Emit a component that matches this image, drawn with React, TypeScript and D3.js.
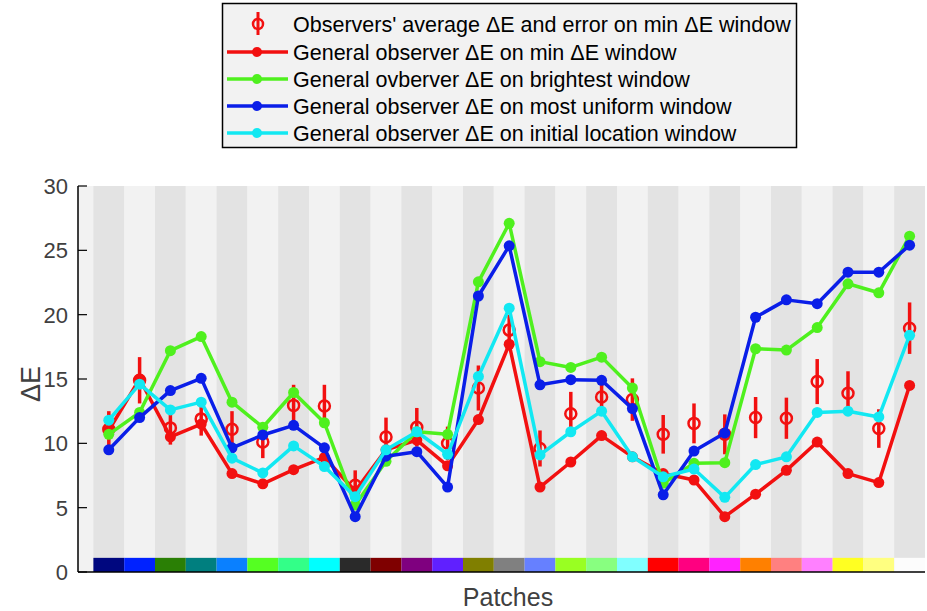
import * as d3 from "d3";

// patch swatch colours, left to right
const patchColors = [
  "#00077f", "#0022ff", "#2a7f05", "#007f7f", "#0a80ff", "#55ff22", "#33ff88", "#00ffff", "#2a2a2a",
  "#7f0000", "#7f007f", "#6020ff", "#807f00", "#808080", "#6680ff", "#99ff22", "#88ff80", "#80ffff",
  "#ff0000", "#ff0080", "#ff22ff", "#ff8000", "#ff8080", "#ff80ff", "#ffff22", "#ffff80", "#fcfcfc",
];

const observerAvg = [11.1, 14.9, 11.2, 11.9, 11.1, 10.1, 12.95, 12.9, 6.75, 10.5, 11.25, 10.0, 14.3, 18.8, 9.6, 12.3, 13.6, 13.4, 10.7, 11.55, 10.7, 12.0, 11.95, 14.8, 13.9, 11.15, 18.95];
const observerErr = [1.4, 1.8, 1.3, 1.3, 1.4, 1.25, 1.6, 1.65, 1.15, 1.5, 1.5, 1.3, 1.75, 1.2, 1.4, 1.7, 1.45, 1.65, 1.5, 1.55, 1.55, 1.6, 1.6, 1.75, 1.7, 1.5, 2.0];
const minWindow = [11.0, 15.0, 10.5, 11.5, 7.65, 6.85, 7.95, 8.9, 6.3, 9.5, 10.25, 8.25, 11.85, 17.7, 6.6, 8.55, 10.6, 8.95, 7.65, 7.15, 4.3, 6.05, 7.9, 10.1, 7.65, 6.95, 14.5];
const brightestWindow = [10.7, 12.4, 17.2, 18.3, 13.2, 11.25, 13.95, 11.6, 5.2, 8.6, 10.9, 10.7, 22.55, 27.1, 16.35, 15.9, 16.7, 14.3, 6.9, 8.45, 8.5, 17.35, 17.25, 19.0, 22.4, 21.7, 26.1];
const uniformWindow = [9.5, 12.0, 14.1, 15.05, 9.65, 10.65, 11.4, 9.65, 4.3, 9.0, 9.35, 6.6, 21.45, 25.35, 14.55, 14.95, 14.9, 12.7, 6.0, 9.4, 10.8, 19.8, 21.15, 20.85, 23.3, 23.3, 25.4];
const initialWindow = [11.8, 14.6, 12.6, 13.2, 8.85, 7.7, 9.8, 8.2, 5.85, 9.5, 10.9, 9.15, 15.2, 20.5, 9.1, 10.9, 12.5, 8.95, 7.4, 8.0, 5.8, 8.35, 8.95, 12.4, 12.5, 12.05, 18.4];

const yTicks = [0, 5, 10, 15, 20, 25, 30];

const series = [
  { name: "General observer \u0394E on min \u0394E window", color: "#f21010", values: minWindow },
  { name: "General ovberver \u0394E on brightest window", color: "#4ff01e", values: brightestWindow },
  { name: "General observer \u0394E on most uniform window", color: "#0a1ee8", values: uniformWindow },
  { name: "General observer \u0394E on initial location window", color: "#12e8f2", values: initialWindow },
];
const observerLabel = "Observers' average \u0394E and error on min \u0394E window";
const red = "#f21010";

const font = "'Liberation Sans', Arial, Helvetica, sans-serif";

export default function App() {
  const W = 927, H = 611;
  const x = d3.scaleLinear().domain([0, 27.5]).range([78, 925]);
  const y = d3.scaleLinear().domain([0, 30]).range([572, 186]);
  const patches = d3.range(1, patchColors.length + 1);
  const line = d3.line<number>().x((_, i) => x(i + 1)).y(d => y(d));

  const legendRows = [24, 52, 79, 106, 133];

  return (
    <div style={{ position: "absolute", left: 0, top: 0 }}>
      <svg width={W} height={H} style={{ display: "block", background: "#fff" }} fontFamily={font}>
        {/* axes background and patch bands */}
        <rect x={x(0)} y={y(30)} width={x(27.5) - x(0)} height={y(0) - y(30)} fill="#f2f2f2" />
        {patches.map(p => (
          <rect key={"b" + p} x={x(p - 0.5)} y={y(30)} width={x(p + 0.5) - x(p - 0.5)} height={y(0) - y(30)}
            fill={p % 2 === 1 ? "#e3e3e3" : "#f2f2f2"} />
        ))}
        {patches.map(p => (
          <rect key={"s" + p} x={x(p - 0.5)} y={y(1.1)} width={x(p + 0.5) - x(p - 0.5)} height={y(0) - y(1.1)}
            fill={patchColors[p - 1]} />
        ))}

        {/* observer error bars */}
        {observerAvg.map((v, i) => (
          <g key={"o" + i}>
            <line x1={x(i + 1)} x2={x(i + 1)} y1={y(v + observerErr[i])} y2={y(v - observerErr[i])}
              stroke={red} strokeWidth={3.5} />
            <circle cx={x(i + 1)} cy={y(v)} r={5.5} fill="none" stroke={red} strokeWidth={2.5} />
          </g>
        ))}

        {/* series lines */}
        {series.map(s => (
          <g key={s.name}>
            <path d={line(s.values) || ""} fill="none" stroke={s.color} strokeWidth={3.5} strokeLinejoin="round" />
            {s.values.map((v, i) => (
              <circle key={i} cx={x(i + 1)} cy={y(v)} r={5.5} fill={s.color} />
            ))}
          </g>
        ))}

        {/* axes */}
        <line x1={x(0)} x2={x(0)} y1={y(30)} y2={y(0)} stroke="#000" strokeWidth={1.5} />
        <line x1={x(0)} x2={x(27.5)} y1={y(0)} y2={y(0)} stroke="#000" strokeWidth={1.5} />
        {yTicks.map(t => (
          <g key={"t" + t}>
            <line x1={x(0)} x2={x(0) + 9} y1={y(t)} y2={y(t)} stroke="#000" strokeWidth={1.2} />
            <text x={x(0) - 10} y={y(t)} dy="0.36em" textAnchor="end" fontSize={22} fill="#404040">{t}</text>
          </g>
        ))}
        <text transform={`translate(40,${(y(0) + y(30)) / 2 + 5}) rotate(-90)`} textAnchor="middle"
          fontSize={27} fill="#404040">{"\u0394E"}</text>
        <text x={508} y={606} textAnchor="middle" fontSize={25} fill="#404040">Patches</text>

        {/* legend */}
        <rect x={222.5} y={3.5} width={574} height={144} fill="#f2f2f2" stroke="#000" strokeWidth={1.5} />
        <g>
          <line x1={258} x2={258} y1={12} y2={35} stroke={red} strokeWidth={3} />
          <circle cx={258} cy={legendRows[0]} r={5} fill="none" stroke={red} strokeWidth={2.5} />
          <text x={293} y={legendRows[0]} dy="0.36em" fontSize={21.5} fill="#000">{observerLabel}</text>
        </g>
        {series.map((s, i) => (
          <g key={"l" + i}>
            <line x1={227} x2={288} y1={legendRows[i + 1]} y2={legendRows[i + 1]} stroke={s.color} strokeWidth={3.5} />
            <circle cx={257} cy={legendRows[i + 1]} r={5} fill={s.color} />
            <text x={293} y={legendRows[i + 1]} dy="0.36em" fontSize={21.5} fill="#000">{s.name}</text>
          </g>
        ))}
      </svg>
    </div>
  );
}
